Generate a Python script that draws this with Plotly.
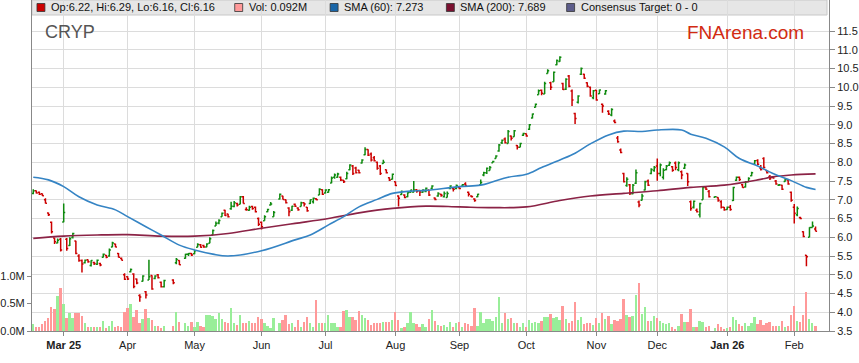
import pandas as pd
import plotly.graph_objects as go

# ---------------- data ----------------
no_trade_days = ["2025-04-18", "2025-04-21", "2025-04-25", "2025-06-09", "2025-12-25"]

open_ = [
    7.17, 7.24, 7.20, 7.16, 7.00, 6.65, 6.40, 5.98, 5.85, 5.95,
    6.41, 5.95, 5.78, 6.00, 5.90, 5.50, 5.38, 5.32, 5.40, 5.25,
    5.33, 5.28, 5.30, 5.47, 5.52, 5.50, 5.74, 5.82, 5.57, 5.44,
    5.00, 4.95, 5.08, 5.02, 4.89, 4.45, 4.83, 4.55, 4.86, 4.98,
    4.90, 5.00, 4.80, 4.68, 4.86, 5.32, 5.38, 5.44, 5.55, 5.57,
    5.56, 5.73, 5.80, 5.78, 5.74, 5.84, 6.06, 6.30, 6.38, 6.55,
    6.72, 6.62,
    6.76, 6.82, 6.90, 6.88, 7.08, 6.74, 6.72, 6.82, 6.80, 6.50,
    6.40, 6.44, 6.68, 6.86, 6.55, 7.02, 7.10, 7.00, 6.78, 6.72,
    6.88, 6.78, 6.82, 6.92, 6.80, 6.90, 6.95, 7.03, 7.13, 7.27,
    7.18, 7.20, 7.45, 7.60, 7.60, 7.60, 7.52, 7.56, 7.80, 7.90,
    7.85, 7.79, 7.98, 8.20, 8.34, 8.22, 8.12, 8.00, 7.90, 7.97,
    7.80, 7.59, 7.55, 7.48, 7.10, 7.14, 7.13, 7.08, 7.20, 7.20,
    7.27, 7.25, 7.20, 7.22,
    7.26, 7.30, 7.05, 7.10, 7.15, 7.08, 7.06, 7.30, 7.30, 7.30,
    7.33, 7.36, 7.42, 7.20, 7.10, 7.02, 7.08, 7.40, 7.66, 7.72,
    7.78, 7.99, 8.10, 8.30, 8.52, 8.62, 8.50, 8.70, 8.68, 8.45,
    8.40, 8.72, 8.76, 8.88, 9.18, 9.47, 9.80, 9.92, 9.82, 10.37,
    10.12, 10.15, 10.60, 10.69, 10.10, 9.95, 10.30, 9.90, 9.30, 9.60,
    10.35, 10.35, 10.12, 10.00, 9.72, 9.92, 9.83, 9.55, 9.82, 9.36,
    9.26, 9.10, 8.65, 8.33, 7.70, 7.38,
    7.40, 7.16, 7.44, 6.94, 6.99, 7.26, 7.50, 7.70, 7.78, 7.90,
    7.70, 7.60, 7.80, 7.92, 7.88, 7.98, 7.80, 7.75, 7.84, 7.70,
    6.95, 6.80, 6.72, 6.60, 7.00, 7.33, 7.22, 7.07, 7.06, 6.95,
    6.80, 6.74, 6.80, 6.98, 7.52, 7.60, 7.40, 7.34, 7.48, 7.64,
    7.95, 8.05, 7.85, 8.10, 7.78, 7.62, 7.61, 7.50, 7.39, 7.39,
    7.49, 7.53, 7.20, 6.80, 6.60, 6.53, 6.15, 5.52, 6.00, 6.26,
    6.22,
]
high = [
    7.28, 7.25, 7.22, 7.17, 7.04, 6.66, 6.42, 5.99, 5.97, 5.98,
    6.90, 5.98, 6.00, 6.12, 5.91, 5.55, 5.41, 5.41, 5.41, 5.39,
    5.35, 5.41, 5.32, 5.57, 5.53, 5.70, 5.88, 5.83, 5.58, 5.46,
    5.04, 4.96, 5.17, 5.04, 4.90, 4.48, 4.99, 4.57, 5.40, 4.99,
    4.99, 5.02, 4.82, 4.87, 4.88, 5.45, 5.39, 5.56, 5.58, 5.58,
    5.66, 5.84, 5.82, 5.80, 5.84, 6.00, 6.21, 6.42, 6.48, 6.66,
    6.73, 6.63,
    6.95, 6.97, 6.92, 7.10, 7.10, 6.80, 6.84, 6.84, 6.82, 6.53,
    6.42, 6.59, 6.76, 6.94, 6.70, 7.17, 7.11, 7.01, 6.80, 6.84,
    6.90, 6.80, 6.95, 6.93, 6.81, 7.01, 7.06, 7.04, 7.31, 7.28,
    7.28, 7.29, 7.62, 7.70, 7.72, 7.62, 7.53, 7.75, 7.95, 7.93,
    7.88, 7.80, 8.08, 8.40, 8.35, 8.26, 8.17, 8.02, 7.93, 8.07,
    7.81, 7.60, 7.70, 7.49, 7.12, 7.25, 7.15, 7.20, 7.27, 7.50,
    7.28, 7.26, 7.28, 7.33,
    7.27, 7.39, 7.06, 7.20, 7.16, 7.22, 7.22, 7.39, 7.33, 7.41,
    7.37, 7.42, 7.47, 7.22, 7.12, 7.04, 7.16, 7.54, 7.75, 7.86,
    7.90, 8.04, 8.19, 8.49, 8.61, 8.66, 8.86, 8.71, 8.86, 8.46,
    8.52, 8.79, 8.77, 9.02, 9.30, 9.57, 9.94, 9.94, 10.15, 10.48,
    10.15, 10.42, 10.74, 10.83, 10.12, 10.24, 10.33, 9.94, 9.32, 9.79,
    10.53, 10.36, 10.13, 10.02, 9.93, 9.93, 9.94, 9.57, 9.93, 9.39,
    9.44, 9.14, 8.70, 8.37, 7.72, 7.60,
    7.42, 7.42, 7.81, 6.98, 7.16, 7.51, 7.54, 7.84, 7.90, 8.10,
    7.97, 7.84, 7.93, 8.02, 7.90, 8.02, 8.02, 7.78, 7.97, 7.71,
    6.98, 6.98, 6.77, 6.92, 7.35, 7.35, 7.26, 7.10, 7.07, 6.99,
    6.81, 6.82, 6.86, 7.35, 7.62, 7.62, 7.42, 7.50, 7.60, 7.75,
    8.06, 8.08, 7.93, 8.13, 7.79, 7.66, 7.62, 7.53, 7.42, 7.40,
    7.57, 7.54, 7.22, 6.89, 6.82, 6.55, 6.16, 5.53, 6.27, 6.42,
    6.29,
]
low = [
    7.15, 7.17, 7.13, 7.10, 6.90, 6.57, 6.10, 5.82, 5.84, 5.62,
    6.40, 5.64, 5.77, 5.97, 5.55, 5.35, 5.06, 5.30, 5.32, 5.22,
    5.26, 5.26, 5.23, 5.46, 5.44, 5.48, 5.73, 5.73, 5.46, 5.39,
    4.86, 4.86, 5.06, 4.64, 4.75, 4.28, 4.82, 4.37, 4.86, 4.60,
    4.88, 4.90, 4.66, 4.66, 4.75, 5.28, 5.26, 5.43, 5.50, 5.50,
    5.55, 5.73, 5.72, 5.72, 5.73, 5.84, 6.06, 6.30, 6.35, 6.55,
    6.57, 6.53,
    6.73, 6.80, 6.82, 6.88, 6.90, 6.71, 6.71, 6.73, 6.66, 6.30,
    6.21, 6.44, 6.67, 6.85, 6.55, 7.01, 7.01, 6.90, 6.56, 6.70,
    6.81, 6.71, 6.82, 6.82, 6.68, 6.89, 6.90, 6.99, 7.13, 7.13,
    7.17, 7.19, 7.44, 7.56, 7.59, 7.50, 7.45, 7.55, 7.79, 7.66,
    7.70, 7.70, 7.97, 8.19, 8.17, 8.02, 8.02, 7.80, 7.66, 7.96,
    7.70, 7.50, 7.54, 7.37, 6.82, 7.13, 7.04, 7.07, 7.19, 7.20,
    7.19, 7.10, 7.19, 7.20,
    7.10, 7.28, 6.99, 7.08, 7.08, 7.06, 7.06, 7.28, 7.22, 7.28,
    7.28, 7.35, 7.35, 7.09, 7.06, 6.95, 7.07, 7.40, 7.63, 7.69,
    7.78, 7.99, 8.10, 8.28, 8.49, 8.50, 8.50, 8.58, 8.68, 8.34,
    8.40, 8.70, 8.68, 8.86, 9.17, 9.46, 9.80, 9.79, 9.82, 10.37,
    9.93, 10.15, 10.59, 10.68, 9.93, 9.93, 10.00, 9.50, 9.02, 9.57,
    10.33, 10.22, 10.00, 9.75, 9.68, 9.64, 9.82, 9.32, 9.80, 9.26,
    9.23, 9.04, 8.52, 8.24, 7.46, 7.35,
    7.13, 7.15, 7.42, 6.80, 6.98, 7.25, 7.37, 7.68, 7.75, 7.51,
    7.63, 7.54, 7.79, 7.90, 7.75, 7.79, 7.76, 7.55, 7.82, 7.37,
    6.71, 6.77, 6.66, 6.53, 7.00, 7.26, 7.06, 7.06, 6.95, 6.77,
    6.71, 6.73, 6.71, 6.97, 7.50, 7.50, 7.32, 7.33, 7.48, 7.63,
    7.93, 7.93, 7.78, 7.84, 7.70, 7.53, 7.57, 7.40, 7.37, 7.26,
    7.48, 7.40, 6.95, 6.37, 6.56, 6.48, 6.00, 5.23, 6.00, 6.26,
    6.16,
]
close = [
    7.24, 7.18, 7.15, 7.11, 6.91, 6.60, 6.15, 5.88, 5.92, 5.66,
    6.66, 5.70, 5.96, 6.10, 5.57, 5.38, 5.29, 5.39, 5.35, 5.38,
    5.30, 5.39, 5.26, 5.55, 5.47, 5.66, 5.85, 5.74, 5.47, 5.39,
    4.88, 4.89, 5.14, 4.69, 4.78, 4.41, 4.97, 4.46, 4.95, 4.62,
    4.97, 4.92, 4.68, 4.85, 4.79, 5.41, 5.27, 5.55, 5.57, 5.53,
    5.64, 5.81, 5.73, 5.74, 5.82, 5.96, 6.18, 6.37, 6.45, 6.64,
    6.58, 6.55,
    6.83, 6.92, 6.86, 7.08, 6.90, 6.73, 6.80, 6.77, 6.68, 6.35,
    6.28, 6.55, 6.74, 6.89, 6.66, 7.15, 7.01, 6.92, 6.68, 6.83,
    6.83, 6.73, 6.92, 6.89, 6.71, 7.00, 7.04, 7.00, 7.28, 7.15,
    7.26, 7.27, 7.58, 7.66, 7.69, 7.53, 7.48, 7.70, 7.93, 7.70,
    7.72, 7.72, 8.06, 8.34, 8.19, 8.06, 8.04, 7.84, 7.70, 8.00,
    7.72, 7.53, 7.68, 7.38, 7.04, 7.22, 7.06, 7.19, 7.26, 7.26,
    7.23, 7.21, 7.26, 7.31,
    7.13, 7.37, 7.01, 7.17, 7.12, 7.17, 7.17, 7.37, 7.28, 7.38,
    7.30, 7.40, 7.38, 7.15, 7.08, 6.98, 7.15, 7.46, 7.72, 7.84,
    7.86, 8.02, 8.17, 8.46, 8.59, 8.52, 8.82, 8.64, 8.84, 8.40,
    8.50, 8.77, 8.70, 9.00, 9.29, 9.55, 9.91, 9.84, 10.10, 10.44,
    10.00, 10.40, 10.71, 10.80, 9.94, 10.21, 10.03, 9.66, 9.17, 9.77,
    10.50, 10.24, 10.03, 9.77, 9.91, 9.66, 9.93, 9.50, 9.91, 9.29,
    9.41, 9.06, 8.55, 8.26, 7.48, 7.55,
    7.17, 7.39, 7.72, 6.86, 7.10, 7.48, 7.39, 7.81, 7.86, 7.70,
    7.93, 7.79, 7.90, 7.99, 7.79, 7.86, 7.99, 7.66, 7.93, 7.48,
    6.77, 6.96, 6.68, 6.90, 7.33, 7.28, 7.08, 7.08, 6.99, 6.80,
    6.73, 6.80, 6.74, 7.33, 7.60, 7.54, 7.33, 7.48, 7.57, 7.72,
    8.04, 7.95, 7.81, 7.86, 7.72, 7.57, 7.58, 7.42, 7.40, 7.28,
    7.54, 7.42, 6.99, 6.64, 6.77, 6.50, 6.02, 5.48, 6.26, 6.30,
    6.16,
]
volume_m = [
    0.13, 0.07, 0.08, 0.12, 0.18, 0.24, 0.44, 0.40, 0.64, 0.79,
    0.49, 0.24, 0.33, 0.24, 0.33, 0.32, 0.28, 0.15, 0.08, 0.08,
    0.07, 0.08, 0.07, 0.19, 0.05, 0.10, 0.19, 0.08, 0.09, 0.07,
    0.35, 0.41, 0.49, 0.26, 0.38, 0.14, 0.22, 0.40, 0.23, 0.20,
    0.10, 0.10, 0.06, 0.10, 0.10, 0.35, 0.16, 0.14, 0.10, 0.17,
    0.08, 0.16, 0.10, 0.08, 0.30, 0.30, 0.27, 0.22, 0.33, 0.21,
    0.16, 0.15,
    0.41, 0.15, 0.11, 0.29, 0.14, 0.14, 0.18, 0.14, 0.15, 0.25,
    0.22, 0.14, 0.09, 0.06, 0.23, 0.15, 0.20, 0.29, 0.13, 0.15,
    0.08, 0.20, 0.08, 0.17, 0.25, 0.15, 0.08, 0.56, 0.15, 0.14,
    0.15, 0.30, 0.15, 0.14, 0.07, 0.08, 0.36, 0.38, 0.26, 0.26,
    0.20, 0.36, 0.29, 0.23, 0.20, 0.11, 0.14, 0.14, 0.15, 0.16,
    0.17, 0.17, 0.20, 0.35, 0.20, 0.05, 0.08, 0.15, 0.35, 0.14,
    0.13, 0.08, 0.13, 0.08,
    0.21, 0.38, 0.19, 0.11, 0.09, 0.11, 0.08, 0.17, 0.08, 0.15,
    0.17, 0.07, 0.14, 0.13, 0.09, 0.42, 0.09, 0.35, 0.14, 0.22,
    0.21, 0.19, 0.26, 0.62, 0.14, 0.32, 0.21, 0.24, 0.15, 0.14,
    0.08, 0.14, 0.07, 0.20, 0.15, 0.17, 0.15, 0.19, 0.26, 0.26,
    0.31, 0.23, 0.26, 0.20, 0.45, 0.21, 0.14, 0.19, 0.53, 0.20,
    0.26, 0.13, 0.14, 0.15, 0.11, 0.23, 0.15, 0.32, 0.21, 0.27,
    0.13, 0.20, 0.19, 0.21, 0.58, 0.29,
    0.26, 0.27, 0.65, 0.88, 0.31, 0.44, 0.18, 0.18, 0.27, 0.23,
    0.18, 0.14, 0.12, 0.14, 0.07, 0.04, 0.09, 0.31, 0.16, 0.16,
    0.40, 0.07, 0.08, 0.18, 0.16, 0.07, 0.09, 0.05, 0.12, 0.07,
    0.04, 0.06, 0.07, 0.25, 0.20, 0.12, 0.09, 0.14, 0.09, 0.14,
    0.25, 0.12, 0.20, 0.11, 0.14, 0.16, 0.09, 0.09, 0.09, 0.18,
    0.07, 0.09, 0.29, 0.45, 0.18, 0.16, 0.29, 0.71, 0.22, 0.15,
    0.092,
]

sma60_dates = [
    "2025-02-17", "2025-02-24", "2025-03-03", "2025-03-10", "2025-03-18",
    "2025-03-26", "2025-04-01", "2025-04-09", "2025-04-16", "2025-04-24",
    "2025-05-01", "2025-05-09", "2025-05-16", "2025-06-02", "2025-06-17",
    "2025-06-24", "2025-07-02", "2025-07-09", "2025-07-16", "2025-07-24",
    "2025-07-31", "2025-08-08", "2025-08-15", "2025-09-01", "2025-09-10",
    "2025-09-16", "2025-09-23", "2025-10-01", "2025-10-08", "2025-10-16",
    "2025-10-23", "2025-10-30", "2025-11-07", "2025-11-14", "2025-11-24",
    "2025-12-01", "2025-12-11", "2025-12-16", "2025-12-23", "2025-12-31",
    "2026-01-07", "2026-01-15", "2026-01-22", "2026-01-30", "2026-02-06",
    "2026-02-11",
]
sma60 = [
    7.60, 7.53, 7.35, 7.08, 6.86, 6.73, 6.55, 6.28, 6.06, 5.79,
    5.66, 5.55, 5.50, 5.64, 5.93, 6.06, 6.33, 6.55, 6.81, 7.01,
    7.17, 7.23, 7.25, 7.35, 7.39, 7.48, 7.60, 7.68, 7.86, 8.06,
    8.24, 8.49, 8.73, 8.83, 8.82, 8.86, 8.86, 8.75, 8.64, 8.41,
    8.10, 7.90, 7.70, 7.51, 7.33, 7.273,
]
sma200_dates = [
    "2025-02-17", "2025-03-03", "2025-03-18", "2025-04-01", "2025-04-16",
    "2025-05-01", "2025-05-16", "2025-06-02", "2025-06-17", "2025-07-02",
    "2025-07-16", "2025-07-31", "2025-08-15", "2025-09-01", "2025-09-16",
    "2025-10-01", "2025-10-16", "2025-10-30", "2025-11-14", "2025-12-01",
    "2025-12-16", "2025-12-31", "2026-01-15", "2026-01-22", "2026-01-30",
    "2026-02-11",
]
sma200 = [
    5.97, 6.03, 6.06, 6.07, 6.03, 6.03, 6.10, 6.24, 6.37, 6.50,
    6.65, 6.77, 6.83, 6.81, 6.79, 6.81, 6.98, 7.10, 7.17, 7.24,
    7.33, 7.39, 7.53, 7.61, 7.66, 7.689,
]

month_ticks = ["2025-03-03", "2025-04-01", "2025-05-01", "2025-06-02", "2025-07-01",
               "2025-08-01", "2025-09-01", "2025-10-01", "2025-11-03", "2025-12-01",
               "2026-01-01", "2026-02-02"]
month_labels = ["<b>Mar 25</b>", "Apr", "May", "Jun", "Jul", "Aug", "Sep", "Oct",
                "Nov", "Dec", "<b>Jan 26</b>", "Feb"]
price_ticks = [3.5, 4.0, 4.5, 5.0, 5.5, 6.0, 6.5, 7.0, 7.5, 8.0, 8.5, 9.0,
               9.5, 10.0, 10.5, 11.0, 11.5]
volume_ticks = [0.0, 0.5, 1.0]

legend_items = [
    ("Op:6.22, Hi:6.29, Lo:6.16, Cl:6.16", "#cc0000"),
    ("Vol: 0.092M", "#ff9999"),
    ("SMA (60): 7.273", "#1a66a8"),
    ("SMA (200): 7.689", "#7a1030"),
    ("Consensus Target: 0 - 0", "#5c5c8a"),
]

# ---------------- build ----------------
weekdays = pd.bdate_range("2025-02-17", "2026-02-11")
skip = set(pd.to_datetime(no_trade_days))
dates = [d for d in weekdays if d not in skip]

W, H = 859, 363
ML, MR, MT, MB = 30, 27, 0, 32
PW, PH = W - ML - MR, H - MT - MB
PX_PER_PRICE = 37.5   # pixels per 1.0 of price
PX_PER_VOL = 55.0     # pixels per 1.0M of volume

GREEN = "#0f8a0f"
RED = "#cc0000"
VOL_UP = "#99ee99"
VOL_DN = "#ff9999"
FONT = "Liberation Sans, Arial, sans-serif"

vol_colors = [VOL_UP if c >= o else VOL_DN for o, c in zip(open_, close)]

fig = go.Figure()
fig.add_trace(go.Bar(
    x=dates, y=volume_m, marker=dict(color=vol_colors, line=dict(width=0)),
    width=0.62 * 86400000, yaxis="y", hoverinfo="skip"))
fig.add_trace(go.Scatter(
    x=sma200_dates, y=sma200, mode="lines", yaxis="y2",
    line=dict(color="#8b2346", width=1.6, shape="spline", smoothing=1.0)))
fig.add_trace(go.Scatter(
    x=sma60_dates, y=sma60, mode="lines", yaxis="y2",
    line=dict(color="#3584c4", width=1.6, shape="spline", smoothing=1.0)))
fig.add_trace(go.Ohlc(
    x=dates, open=open_, high=high, low=low, close=close, yaxis="y2",
    increasing=dict(line=dict(color=GREEN, width=1.5)),
    decreasing=dict(line=dict(color=RED, width=1.5)),
    tickwidth=0.5))

def px_x(px):
    return (px - ML) / PW

def px_y(py):
    return (MT + PH - py) / PH

shapes = [dict(type="rect", xref="paper", yref="paper",
               x0=px_x(30), x1=px_x(830), y0=px_y(15), y1=px_y(0),
               fillcolor="#e6e6e6", line=dict(color="#c8c8c8", width=1), layer="below")]
annotations = []
sq_left = [35, 234, 330, 447, 568]
for (label, col), sx in zip(legend_items, sq_left):
    shapes.append(dict(type="rect", xref="paper", yref="paper",
                       x0=px_x(sx), x1=px_x(sx + 8), y0=px_y(11.5), y1=px_y(3.5),
                       fillcolor=col, line=dict(color="#333333", width=0.8), layer="above"))
    annotations.append(dict(x=px_x(sx + 12), y=px_y(7.5), xref="paper", yref="paper",
                            text=label, showarrow=False, xanchor="left", yanchor="middle",
                            font=dict(family=FONT, size=11, color="#111111")))
annotations.append(dict(x=px_x(41), y=px_y(32), xref="paper", yref="paper", text="CRYP",
                        showarrow=False, xanchor="left", yanchor="middle",
                        font=dict(family=FONT, size=18, color="#555555")))
annotations.append(dict(x=px_x(809), y=px_y(33), xref="paper", yref="paper", text="FNArena.com",
                        showarrow=False, xanchor="right", yanchor="middle",
                        font=dict(family=FONT, size=19, color="#d22b12")))

fig.update_layout(
    width=W, height=H,
    margin=dict(l=ML, r=MR, t=MT, b=MB, pad=0),
    paper_bgcolor="white", plot_bgcolor="white",
    showlegend=False, bargap=0,
    font=dict(family=FONT, size=11, color="#222222"),
    shapes=shapes, annotations=annotations,
    xaxis=dict(type="date", range=["2025-02-14 14:00", "2026-02-17 10:00"],
               rangebreaks=[dict(bounds=["sat", "mon"])],
               rangeslider=dict(visible=False),
               tickmode="array", tickvals=month_ticks, ticktext=month_labels,
               showgrid=True, gridcolor="#dcdcdc", gridwidth=1,
               ticks="outside", ticklen=4, tickcolor="#888888",
               showline=True, linecolor="#888888", linewidth=1,
               tickfont=dict(family=FONT, size=11, color="#222222"), zeroline=False),
    yaxis=dict(range=[0, PH / PX_PER_VOL], side="left",
               tickmode="array", tickvals=volume_ticks,
               ticktext=[f"{v:.1f}M" for v in volume_ticks],
               showgrid=False, zeroline=False,
               showline=True, linecolor="#888888", linewidth=1,
               ticks="outside", ticklen=4, tickcolor="#888888",
               tickfont=dict(family=FONT, size=11, color="#222222")),
    yaxis2=dict(range=[price_ticks[0], price_ticks[0] + PH / PX_PER_PRICE],
                overlaying="y", side="right",
                tickmode="array", tickvals=price_ticks,
                ticktext=[f"{v:.1f}" for v in price_ticks],
                showgrid=True, gridcolor="#dcdcdc", gridwidth=1, zeroline=False,
                showline=True, linecolor="#888888", linewidth=1,
                ticks="outside", ticklen=5, tickcolor="#888888",
                tickfont=dict(family=FONT, size=11, color="#222222")),
)

fig.write_html("out.html",
               config={"displayModeBar": False},
               post_script="document.body.style.margin='0';document.body.style.overflow='hidden';")
